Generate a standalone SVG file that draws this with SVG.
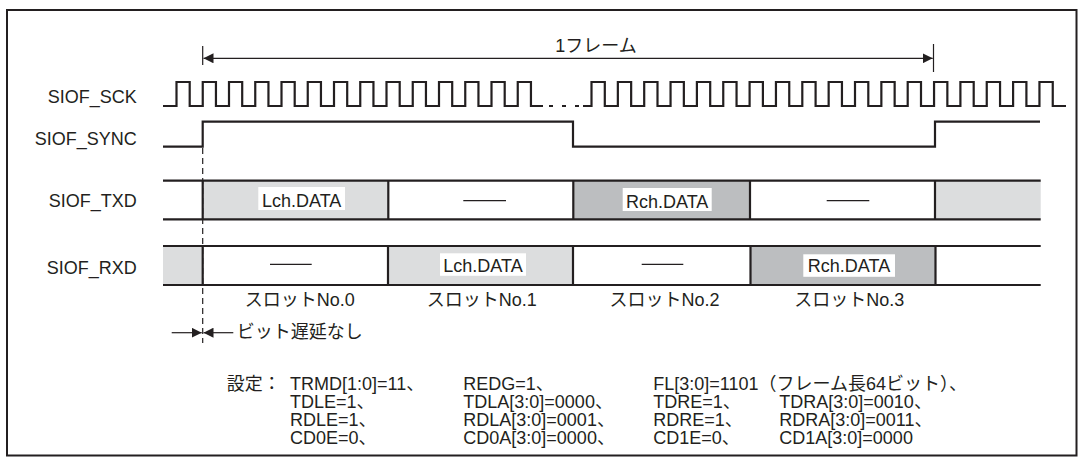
<svg xmlns="http://www.w3.org/2000/svg" width="1086" height="466" viewBox="0 0 1086 466">
<style>
text{font-family:"Liberation Sans","Noto Sans CJK JP",sans-serif;font-size:18px;fill:#231f20}
.lbl{text-anchor:end}
.mid{text-anchor:middle}
.sig{fill:none;stroke:#231f20;stroke-width:2.2;stroke-linejoin:miter}
.ln{stroke:#231f20;stroke-width:2.2}
.thin{stroke:#231f20;stroke-width:1.2;fill:none}
.lg{fill:#dcddde}
.dg{fill:#bcbec0}
.wb{fill:#ffffff}
</style>
<defs>
<marker id="ah" viewBox="0 0 10 10" refX="10" refY="5" markerWidth="10" markerHeight="10" markerUnits="userSpaceOnUse" orient="auto-start-reverse">
<path d="M0,0 L10,5 L0,10 Z" fill="#231f20"/>
</marker>
</defs>
<rect x="7" y="10" width="1069.5" height="445.5" fill="#ffffff" stroke="#231f20" stroke-width="2"/>

<g id="labels">
<text class="lbl" x="136.7" y="103">SIOF_SCK</text>
<text class="lbl" x="136.7" y="145">SIOF_SYNC</text>
<text class="lbl" x="136.7" y="207">SIOF_TXD</text>
<text class="lbl" x="136.7" y="274">SIOF_RXD</text>
</g>

<g id="frame-span">
<line class="thin" x1="202.7" y1="46" x2="202.7" y2="65"/>
<line class="thin" x1="933.5" y1="44" x2="933.5" y2="72"/>
<line class="thin" x1="203.5" y1="58.3" x2="932.7" y2="58.3" marker-start="url(#ah)" marker-end="url(#ah)"/>
<text class="mid" x="596" y="52">1フレーム</text>
</g>

<g id="sck">
<path class="sig" d="M163,106 H176.5 V82 H189.7 V106 H202.75 V82 H215.95 V106 H229 V82 H242.2 V106 H255.25 V82 H268.45 V106 H281.5 V82 H294.7 V106 H307.75 V82 H320.95 V106 H334 V82 H347.2 V106 H360.25 V82 H373.45 V106 H386.5 V82 H399.7 V106 H412.75 V82 H425.95 V106 H439 V82 H452.2 V106 H465.25 V82 H478.45 V106 H491.5 V82 H504.7 V106 H517.75 V82 H530.95 V106 H543"/>
<path class="sig" d="M549,106 H553 M562,106 H566 M575,106 H579"/>
<path class="sig" d="M583,106 H591.5 V82 H604.8 V106 H617.85 V82 H631.15 V106 H644.2 V82 H657.5 V106 H670.55 V82 H683.85 V106 H696.9 V82 H710.2 V106 H723.25 V82 H736.55 V106 H749.6 V82 H762.9 V106 H775.95 V82 H789.25 V106 H802.3 V82 H815.6 V106 H828.65 V82 H841.95 V106 H855 V82 H868.3 V106 H881.35 V82 H894.65 V106 H907.7 V82 H921 V106 H934.05 V82 H947.35 V106 H960.4 V82 H973.7 V106 H986.75 V82 H1000.05 V106 H1013.1 V82 H1026.4 V106 H1039.45 V82 H1052.75 V106 H1066"/>
</g>

<g id="sync">
<path class="sig" d="M163,146.7 H202.7 V121.7 H573 V146.7 H935 V121.7 H1040"/>
</g>

<g id="txd">
<rect class="lg" x="202.7" y="180.7" width="185.6" height="38.6"/>
<rect class="dg" x="573.3" y="180.7" width="176.7" height="38.6"/>
<rect class="lg" x="935" y="180.7" width="105.7" height="38.6"/>
<line class="ln" x1="163" y1="180.7" x2="1040.7" y2="180.7"/>
<line class="ln" x1="163" y1="219.3" x2="1040.7" y2="219.3"/>
<path class="ln" d="M202.7,180.7 V219.3 M388.3,180.7 V219.3 M573.3,180.7 V219.3 M750,180.7 V219.3 M935,180.7 V219.3"/>
<rect class="wb" x="258.3" y="187" width="86.7" height="23"/>
<text class="mid" x="301.7" y="207">Lch.DATA</text>
<line class="thin" x1="463.3" y1="200.7" x2="506" y2="200.7"/>
<rect class="wb" x="622.7" y="188" width="89" height="23"/>
<text class="mid" x="667.2" y="207.5">Rch.DATA</text>
<line class="thin" x1="826.7" y1="200.7" x2="869.3" y2="200.7"/>
</g>

<g id="rxd">
<rect class="lg" x="163" y="246" width="39.7" height="39"/>
<rect class="lg" x="388" y="246" width="185" height="39"/>
<rect class="dg" x="750.5" y="246" width="185" height="39"/>
<line class="ln" x1="163" y1="246" x2="1040.7" y2="246"/>
<line class="ln" x1="163" y1="285" x2="1040.7" y2="285"/>
<path class="ln" d="M202.7,246 V285 M388,246 V285 M573,246 V285 M750.5,246 V285 M935.5,246 V285"/>
<line class="thin" x1="270" y1="264.3" x2="311.7" y2="264.3"/>
<rect class="wb" x="440" y="253.3" width="86" height="22.5"/>
<text class="mid" x="483" y="271.5">Lch.DATA</text>
<line class="thin" x1="641.7" y1="264.3" x2="683.3" y2="264.3"/>
<rect class="wb" x="803.3" y="254.3" width="91.7" height="22.5"/>
<text class="mid" x="849" y="272.3">Rch.DATA</text>
</g>

<g id="slots">
<text class="mid" x="299.7" y="306">スロットNo.0</text>
<text class="mid" x="481.7" y="306">スロットNo.1</text>
<text class="mid" x="664.5" y="306">スロットNo.2</text>
<text class="mid" x="849.2" y="306">スロットNo.3</text>
</g>

<g id="connectors">
<line class="thin" x1="202.7" y1="148" x2="202.7" y2="343" stroke-dasharray="6,4"/>
<line class="thin" x1="171.7" y1="332.7" x2="201.7" y2="332.7" marker-end="url(#ah)"/>
<line class="thin" x1="233.3" y1="332.7" x2="203.5" y2="332.7" marker-end="url(#ah)"/>
</g>
<text x="236.7" y="337.5">ビット遅延なし</text>

<g id="settings">
<text x="226.7" y="389.5">設定：</text>
<text x="290" y="389.5">TRMD[1:0]=11、</text>
<text x="290" y="407.5">TDLE=1、</text>
<text x="290" y="425.5">RDLE=1、</text>
<text x="290" y="443.5">CD0E=0、</text>
<text x="463.3" y="389.5">REDG=1、</text>
<text x="463.3" y="407.5">TDLA[3:0]=0000、</text>
<text x="463.3" y="425.5">RDLA[3:0]=0001、</text>
<text x="463.3" y="443.5">CD0A[3:0]=0000、</text>
<text x="653.3" y="389.5">FL[3:0]=1101（フレーム長64ビット）、</text>
<text x="653.3" y="407.5">TDRE=1、</text>
<text x="653.3" y="425.5">RDRE=1、</text>
<text x="653.3" y="443.5">CD1E=0、</text>
<text x="779.3" y="407.5">TDRA[3:0]=0010、</text>
<text x="779.3" y="425.5">RDRA[3:0]=0011、</text>
<text x="779.3" y="443.5">CD1A[3:0]=0000</text>
</g>
</svg>
